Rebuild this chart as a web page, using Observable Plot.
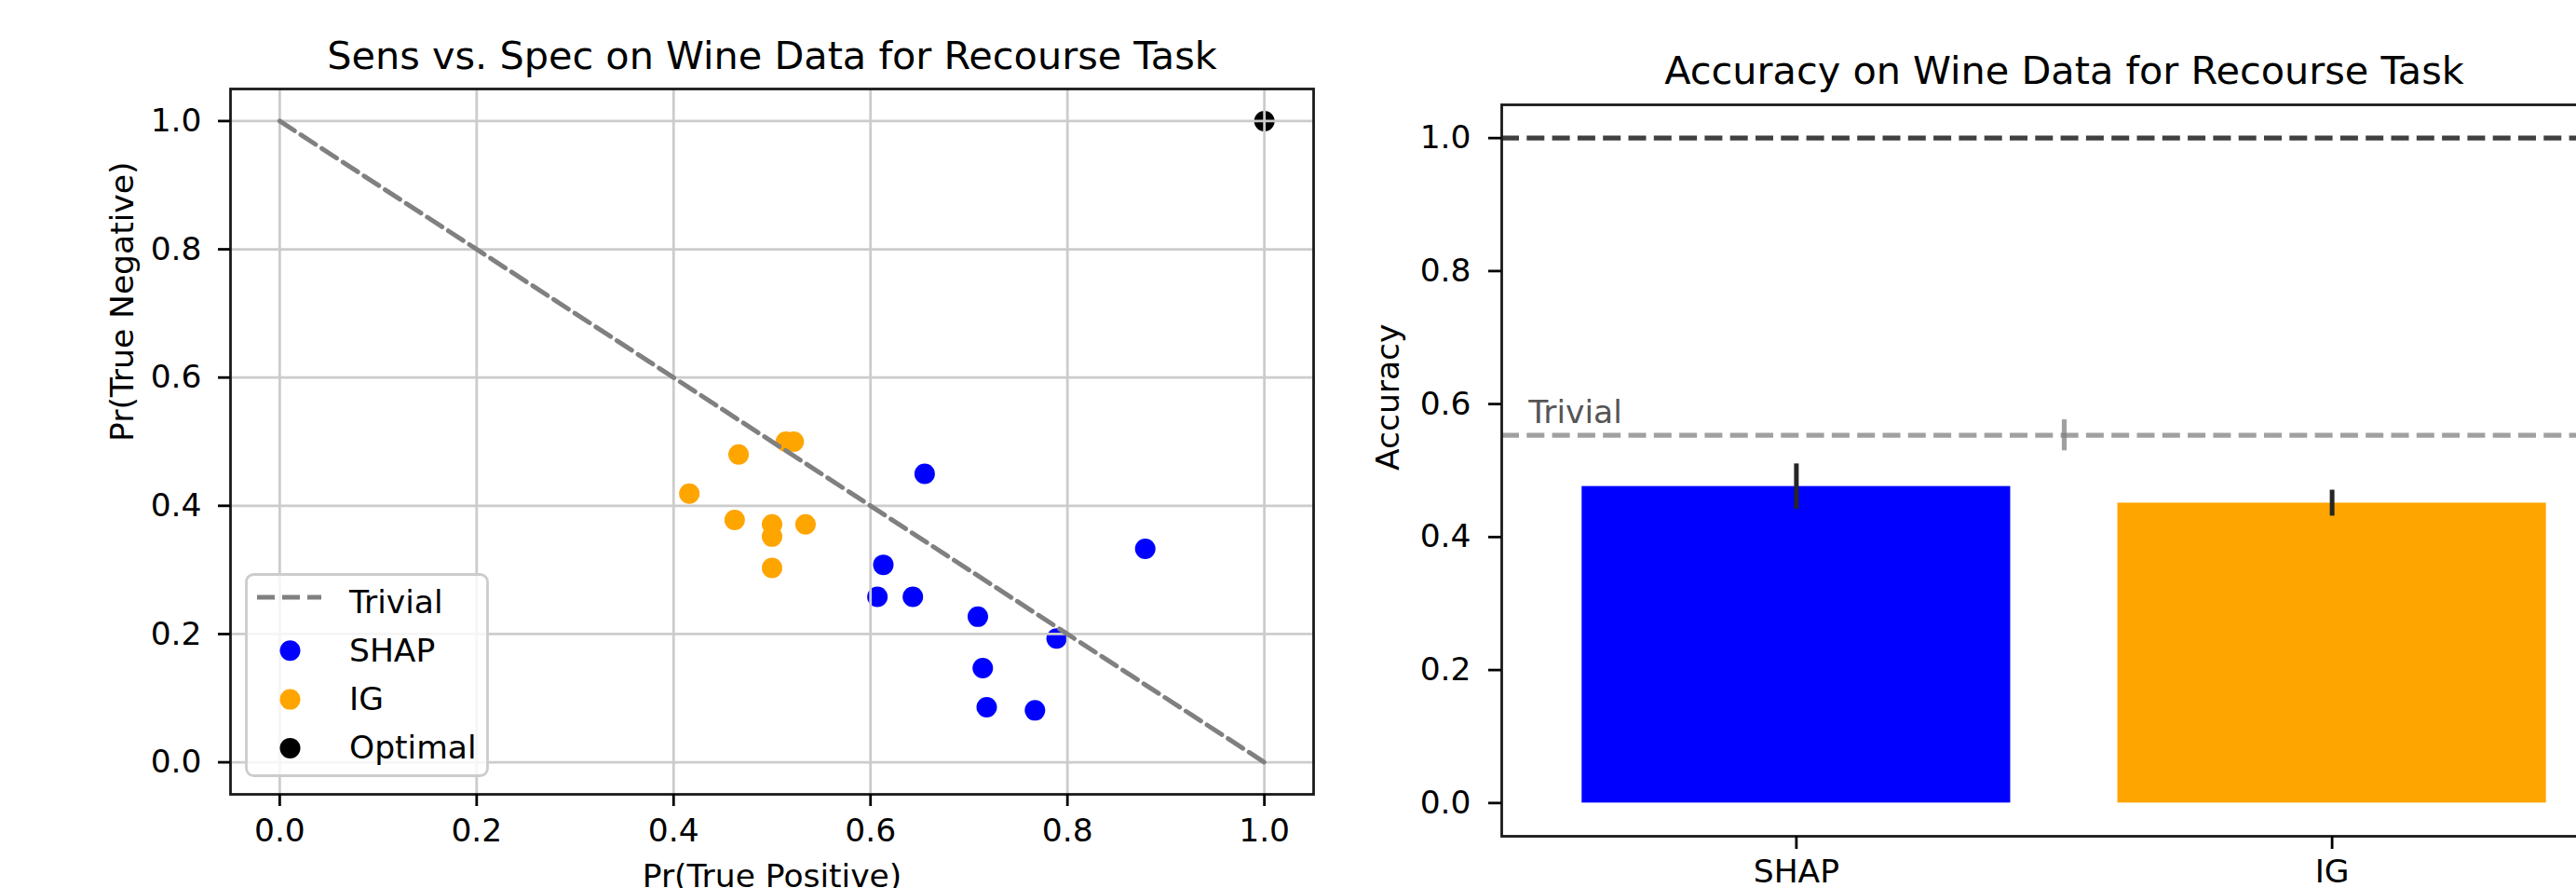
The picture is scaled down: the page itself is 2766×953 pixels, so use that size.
<!DOCTYPE html>
<html><head><meta charset="utf-8">
<script src="https://cdn.jsdelivr.net/npm/d3@7"></script>
<script src="https://cdn.jsdelivr.net/npm/@observablehq/plot@0.6"></script>
<style>
html,body{margin:0;padding:0;background:#fff;overflow:hidden;}
#wrap{position:relative;width:2766px;height:953px;overflow:hidden;background:#fff;font-family:"DejaVu Sans",sans-serif;}
#left{position:absolute;left:0;top:0;width:1450px;height:953px;}
#right{position:absolute;left:1450px;top:0;width:1400px;height:953px;}
#wrap svg{max-width:none !important;}
#legend{position:absolute;left:0;top:0;pointer-events:none;}
</style></head><body>
<div id="wrap"><div id="left"></div><div id="right"></div></div>
<script>
// ---- Left chart data: sensitivity vs specificity ----
const shapTP = [0.655, 0.879, 0.613, 0.607, 0.643, 0.709, 0.789, 0.714, 0.718, 0.767];
const shapTN = [0.450, 0.333, 0.308, 0.258, 0.258, 0.227, 0.193, 0.147, 0.086, 0.081];
const igTP   = [0.514, 0.522, 0.466, 0.416, 0.462, 0.500, 0.500, 0.534, 0.500];
const igTN   = [0.500, 0.500, 0.480, 0.419, 0.378, 0.371, 0.352, 0.371, 0.303];
const optimalTP = [1.0];
const optimalTN = [1.0];
const trivialTP = [0, 1];
const trivialTN = [1, 0];
const tickValues = [0, 0.2, 0.4, 0.6, 0.8, 1.0];
const legendLabels = ["Trivial", "SHAP", "IG", "Optimal"];
const legendColors = ["gray", "#0000ff", "#ffa500", "#000000"];

// ---- Right chart data: accuracy ----
const methods = ["SHAP", "IG"];
const methodPos = [0, 1];
const accuracy = [0.476, 0.451];
const accuracyErr = [0.034, 0.0195];
const methodColors = ["#0000ff", "#ffa500"];
const trivialAcc = 0.553;
const trivialAccErr = 0.0233;
const trivialErrX = 0.5;
const trivialLabelX = -0.5;
const optimalAcc = 1.0;

const FONT = "DejaVu Sans";
const TICK_FS = 34.5, TITLE_FS = 41.4;

const pts = (xs, ys) => xs.map((x, i) => ({x, y: ys[i]}));
const shap = pts(shapTP, shapTN), ig = pts(igTP, igTN), opt = pts(optimalTP, optimalTN), trivial = pts(trivialTP, trivialTN);

const gridOpts = {stroke: "#cccccc", strokeOpacity: 1, strokeWidth: 2.8};
const axisOpts = {fontSize: TICK_FS, strokeWidth: 2.8, label: null, tickSize: 13};
const baseStyle = {fontFamily: FONT, fontSize: TICK_FS + "px", color: "#000", background: "transparent", maxWidth: "none", overflow: "visible"};

const left = Plot.plot({
  width: 1450, height: 953,
  marginLeft: 247, marginRight: 40, marginTop: 95, marginBottom: 101,
  style: baseStyle,
  x: {domain: [-0.05, 1.05]},
  y: {domain: [-0.05, 1.05]},
  marks: [
    Plot.dot(shap, {x: "x", y: "y", r: 11, fill: "#0000ff", stroke: "none"}),
    Plot.dot(ig, {x: "x", y: "y", r: 11, fill: "#ffa500", stroke: "none"}),
    Plot.dot(opt, {x: "x", y: "y", r: 11, fill: "#000000", stroke: "none"}),
    Plot.gridX(tickValues, gridOpts),
    Plot.gridY(tickValues, gridOpts),
    Plot.line(trivial, {x: "x", y: "y", stroke: "gray", strokeWidth: 5, strokeDasharray: "19,8"}),
    Plot.frame({stroke: "#1a1a1a", strokeWidth: 2.8}),
    Plot.axisX(tickValues, {...axisOpts, tickPadding: 13, tickFormat: ".1f"}),
    Plot.axisY(tickValues, {...axisOpts, tickPadding: 18, tickFormat: ".1f"}),
    Plot.text(["Sens vs. Spec on Wine Data for Recourse Task"], {text: d => d, frameAnchor: "top", lineAnchor: "bottom", dy: -22, fontSize: TITLE_FS, fill: "#000"}),
    Plot.text(["Pr(True Positive)"], {text: d => d, frameAnchor: "bottom", lineAnchor: "top", dy: 75, fontSize: TICK_FS, fill: "#000"}),
    Plot.text(["Pr(True Negative)"], {text: d => d, frameAnchor: "left", rotate: -90, dx: -116, fontSize: TICK_FS, fill: "#000"})
  ]
});
document.getElementById("left").appendChild(left);

const bars = methods.map((m, i) => ({m, pos: methodPos[i], acc: accuracy[i], err: accuracyErr[i], color: methodColors[i]}));
const right = Plot.plot({
  width: 1400, height: 953,
  marginLeft: 162, marginRight: 30, marginTop: 112, marginBottom: 56,
  style: baseStyle,
  x: {domain: [-0.55, 1.55]},
  y: {domain: [-0.05, 1.05]},
  color: {type: "identity"},
  marks: [
    Plot.rect(bars, {x1: d => d.pos - 0.4, x2: d => d.pos + 0.4, y1: 0, y2: "acc", fill: "color"}),
    Plot.ruleX(bars, {x: "pos", y1: d => d.acc - d.err, y2: d => d.acc + d.err, stroke: "#262626", strokeWidth: 5}),
    Plot.ruleY([trivialAcc], {stroke: "gray", strokeOpacity: 0.75, strokeWidth: 5.2, strokeDasharray: "19,8.3"}),
    Plot.ruleX([trivialErrX], {x: d => d, y1: trivialAcc - trivialAccErr, y2: trivialAcc + trivialAccErr, stroke: "gray", strokeOpacity: 0.75, strokeWidth: 5.2}),
    Plot.ruleY([optimalAcc], {stroke: "black", strokeOpacity: 0.75, strokeWidth: 5.2, strokeDasharray: "19,8.3"}),
    Plot.text(["Trivial"], {text: d => d, x: trivialLabelX, y: trivialAcc, textAnchor: "start", lineAnchor: "bottom", dy: -13, fontSize: TICK_FS, fill: "#555555"}),
    Plot.frame({stroke: "#1a1a1a", strokeWidth: 2.8}),
    Plot.axisX(methodPos, {...axisOpts, tickSize: 14, tickPadding: 11, tickFormat: d => methods[d]}),
    Plot.axisY(tickValues, {...axisOpts, tickSize: 14, tickPadding: 19, tickFormat: ".1f"}),
    Plot.text(["Accuracy on Wine Data for Recourse Task"], {text: d => d, frameAnchor: "top", lineAnchor: "bottom", dy: -23, fontSize: TITLE_FS, fill: "#000"}),
    Plot.text(["Accuracy"], {text: d => d, frameAnchor: "left", rotate: -90, dx: -122, fontSize: TICK_FS, fill: "#000"})
  ]
});
document.getElementById("right").appendChild(right);

// ---- Legend for left chart (SVG overlay) ----
const ns = "http://www.w3.org/2000/svg";
const lg = document.createElementNS(ns, "svg");
lg.setAttribute("id", "legend");
lg.setAttribute("width", 2766); lg.setAttribute("height", 953);
const el = (tag, attrs, parent) => { const e = document.createElementNS(ns, tag); for (const k in attrs) e.setAttribute(k, attrs[k]); parent.appendChild(e); return e; };
const box = {x: 264.5, y: 616.5, w: 259, h: 216};
el("rect", {x: box.x, y: box.y, width: box.w, height: box.h, rx: 8, fill: "#fff", "fill-opacity": 0.8, stroke: "#cccccc", "stroke-width": 2.8}, lg);
const rowH = 52.3, firstRow = 645, handleX = 276, handleLen = 69, textX = 375;
legendLabels.forEach((lab, i) => {
  const cy = firstRow + i * rowH;
  if (i === 0) {
    el("line", {x1: handleX, x2: handleX + handleLen, y1: cy - 4, y2: cy - 4, stroke: legendColors[i], "stroke-width": 5, "stroke-dasharray": "19,8"}, lg);
  } else {
    el("circle", {cx: handleX + handleLen / 2 + 1, cy: cy + 1, r: 11, fill: legendColors[i]}, lg);
  }
  const t = el("text", {x: textX, y: cy + 12.5, "font-family": FONT, "font-size": TICK_FS, fill: "#000"}, lg);
  t.textContent = lab;
});
document.getElementById("wrap").appendChild(lg);
</script>
</body></html>
